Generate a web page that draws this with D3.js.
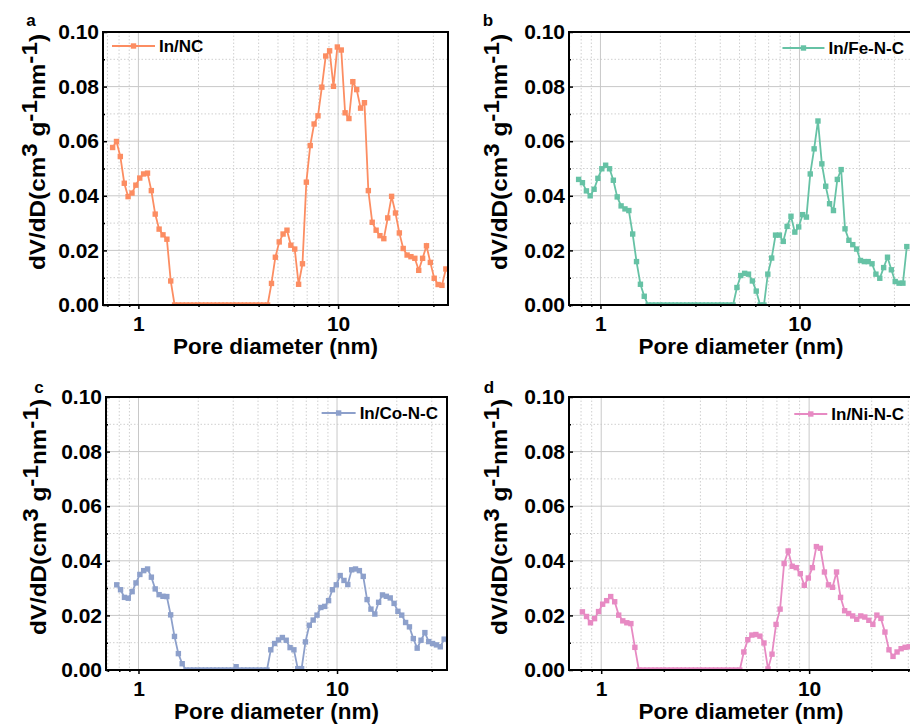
<!DOCTYPE html>
<html>
<head>
<meta charset="utf-8">
<script src="https://cdn.jsdelivr.net/npm/d3@7"></script>
<style>
  body { margin: 0; background: #fff; }
  text { font-family: "Liberation Sans", Arial, sans-serif; font-weight: bold; fill: #000; }
</style>
</head>
<body>
<svg id="chart" width="910" height="727"></svg>
<script>
// pore diameters (nm) of the shared measurement grid
var poreDiameter = [0.743,0.777,0.812,0.850,0.888,0.929,0.971,1.016,1.062,1.111,
  1.161,1.214,1.270,1.328,1.389,1.452,1.518,1.588,1.660,1.736,
  1.816,1.898,1.985,2.076,2.171,2.270,2.374,2.482,2.595,2.714,
  2.838,2.968,3.103,3.245,3.393,3.548,3.710,3.880,4.057,4.242,
  4.436,4.639,4.851,5.072,5.304,5.546,5.800,6.065,6.342,6.631,
  6.934,7.251,7.582,7.929,8.291,8.670,9.066,9.480,9.913,10.37,
  10.84,11.33,11.85,12.39,12.96,13.55,14.17,14.82,15.50,16.20,
  16.94,17.72,18.53,19.38,20.26,21.18,22.15,23.16,24.22,25.33,
  26.49,27.70,28.96,30.28,31.67,33.11,34.63,36.22];

// dV/dD (cm3 g-1 nm-1), null = no point
var inNC = [0.0577,0.0599,0.0544,0.0446,0.0397,0.0410,0.0439,0.0465,0.0480,0.0483,
  0.0419,0.0333,0.0278,0.0257,0.0241,0.0088,0,0,0,0,
  0,0,0,0,0,0,0,0,0,0,
  0,0,0,0,0,0,0,0,0,0,
  0,0.0079,0.0175,0.0231,0.0260,0.0274,0.0219,0.0205,0.0076,0.0151,
  0.0450,0.0584,0.0663,0.0693,0.0798,0.0912,0.0931,0.0801,0.0945,0.0934,
  0.0704,0.0683,0.0818,0.0789,0.0721,0.0741,0.0419,0.0303,0.0274,0.0254,
  0.0243,0.0319,0.0398,0.0337,0.0264,0.0207,0.0183,0.0177,0.0171,0.0127,
  0.0171,0.0217,0.0156,0.0098,0.0075,0.0072,0.0132,null];

var inFeNC = [null,0.0460,0.0448,0.0418,0.0400,0.0424,0.0464,0.0499,0.0512,0.0499,
  0.0457,0.0396,0.0363,0.0352,0.0346,0.0260,0.0159,0.0076,0.0032,0,
  0,0,0,0,0,0,0,0,0,0,
  0,0,0,0,0,0,0,0,0,0,
  0,0,0.0064,0.0108,0.0116,0.0113,0.0088,0.0051,0,0,
  0.0113,0.0172,0.0256,0.0256,0.0233,0.0288,0.0325,0.0267,0.0286,0.0331,
  0.0322,0.0480,0.0572,0.0674,0.0517,0.0435,0.0371,0.0346,0.0460,0.0496,
  0.0279,0.0237,0.0221,0.0205,0.0163,0.0159,0.0159,0.0151,0.0113,0.0098,
  0.0137,0.0175,0.0129,0.0086,0.0080,0.0080,0.0214,null];

var inCoNC = [null,0.0312,0.0294,0.0266,0.0263,0.0287,0.0319,0.0350,0.0364,0.0370,
  0.0340,0.0297,0.0276,0.0270,0.0269,0.0202,0.0123,0.0060,0.0023,0,
  0,0,0,0,0,0,0,0,0,0,
  0,0,0.0012,0,0,0,0,0,0,0,
  0,0.0074,0.0097,0.0110,0.0119,0.0109,0.0082,0.0074,0.0005,0.0005,
  0.0103,0.0164,0.0183,0.0201,0.0229,0.0233,0.0254,0.0294,0.0312,0.0346,
  0.0328,0.0313,0.0367,0.0370,0.0364,0.0343,0.0258,0.0223,0.0205,0.0248,
  0.0275,0.0270,0.0264,0.0244,0.0215,0.0201,0.0174,0.0158,0.0115,0.0080,
  0.0109,0.0137,0.0104,0.0097,0.0092,0.0085,0.0113,null];

var inNiNC = [null,null,0.0213,0.0196,0.0173,0.0188,0.0214,0.0241,0.0254,0.0269,
  0.0250,0.0201,0.0180,0.0173,0.0170,0.0083,0,0,0,0,
  0,0,0,0,0,0,0,0,0,0,
  0,0,0,0,0,0,0,0,0,0,
  0,0,0.0066,0.0111,0.0128,0.0130,0.0124,0.0099,0.0004,0.0058,
  0.0167,0.0223,0.0390,0.0436,0.0380,0.0375,0.0353,0.0310,0.0337,0.0375,
  0.0452,0.0446,0.0359,0.0312,0.0303,0.0359,0.0266,0.0217,0.0207,0.0198,
  0.0186,0.0198,0.0194,0.0182,0.0167,0.0201,0.0189,0.0139,0.0074,0.0050,
  0.0066,0.0078,0.0083,0.0085,null,null,null,null];

var seriesNames = ["In/NC", "In/Fe-N-C", "In/Co-N-C", "In/Ni-N-C"];
var panelLetters = ["a", "b", "c", "d"];
var xMajorTicks = [1, 10];
var xMinorTicks = [0.7, 0.8, 0.9, 2, 3, 4, 5, 6, 7, 8, 9, 20, 30];
var yMajorTicks = [0, 0.02, 0.04, 0.06, 0.08, 0.10];
var yMinorTicks = [0.01, 0.03, 0.05, 0.07, 0.09];
var colors = ["#fc8d62", "#66c2a5", "#8da0cb", "#e78ac3"];

// panel boxes
var panels = [
  {values: inNC,   left: 103, top: 32,  width: 345, height: 273, xDomain: [0.665, 35.5], legend: "left",  legY: 14, legLen: 43, letX: 31,  letY: 26,  titleX: 45},
  {values: inFeNC, left: 569, top: 32,  width: 344, height: 273, xDomain: [0.695, 37.2], legend: "right", legY: 16, legLen: 42, letX: 488, letY: 26,  titleX: 507},
  {values: inCoNC, left: 106, top: 397, width: 341, height: 273, xDomain: [0.686, 35.8], legend: "right", legY: 16, legLen: 34, letX: 39,  letY: 393, titleX: 46},
  {values: inNiNC, left: 569, top: 397, width: 344, height: 273, xDomain: [0.70, 31.6],  legend: "right", legY: 17, legLen: 33, letX: 489, letY: 393, titleX: 507}
];

var svg = d3.select("#chart");

panels.forEach(function(p, k) {
  var color = colors[k];
  var g = svg.append("g").attr("transform", "translate(" + p.left + "," + p.top + ")");
  var x = d3.scaleLog().domain(p.xDomain).range([0, p.width]);
  var y = d3.scaleLinear().domain([0, 0.1]).range([p.height, 0]);

  var xMinor = xMinorTicks.filter(t => t > p.xDomain[0] && t < p.xDomain[1]);

  // grid
  g.append("g").selectAll("line").data(xMinor).enter().append("line")
    .attr("x1", d => x(d)).attr("x2", d => x(d)).attr("y1", 0).attr("y2", p.height)
    .attr("stroke", "#cfcfcf").attr("stroke-dasharray", "1.5,2");
  g.append("g").selectAll("line").data(yMinorTicks).enter().append("line")
    .attr("x1", 0).attr("x2", p.width).attr("y1", d => y(d)).attr("y2", d => y(d))
    .attr("stroke", "#cfcfcf").attr("stroke-dasharray", "1.5,2");
  g.append("g").selectAll("line").data(xMajorTicks).enter().append("line")
    .attr("x1", d => x(d)).attr("x2", d => x(d)).attr("y1", 0).attr("y2", p.height)
    .attr("stroke", "#c8c8c8");
  g.append("g").selectAll("line").data(yMajorTicks.slice(1, -1)).enter().append("line")
    .attr("x1", 0).attr("x2", p.width).attr("y1", d => y(d)).attr("y2", d => y(d))
    .attr("stroke", "#c8c8c8");

  // data
  var clipId = "clip" + k;
  g.append("clipPath").attr("id", clipId).append("rect")
    .attr("width", p.width).attr("height", p.height);
  var pts = poreDiameter.map((d, i) => [d, p.values[i]]);
  var line = d3.line().defined(d => d[1] != null).x(d => x(d[0])).y(d => y(d[1]));
  var plot = g.append("g").attr("clip-path", "url(#" + clipId + ")");
  plot.append("path").datum(pts).attr("d", line)
    .attr("fill", "none").attr("stroke", color).attr("stroke-width", 1.8);
  plot.selectAll("rect").data(pts.filter(d => d[1] != null)).enter().append("rect")
    .attr("x", d => x(d[0]) - 2.7).attr("y", d => y(d[1]) - 2.7)
    .attr("width", 5.4).attr("height", 5.4).attr("fill", color);

  // axes
  var xAxis = g.append("g").attr("transform", "translate(0," + p.height + ")")
    .call(d3.axisBottom(x).tickValues(xMajorTicks).tickFormat(d3.format("d")).tickSize(4).tickPadding(7));
  g.append("g").attr("transform", "translate(0," + p.height + ")")
    .call(d3.axisBottom(x).tickValues(xMinor).tickFormat("").tickSize(2));
  var yAxis = g.append("g")
    .call(d3.axisLeft(y).tickValues(yMajorTicks).tickFormat(d3.format(".2f")).tickSize(-4).tickPadding(4));
  g.append("g").call(d3.axisLeft(y).tickValues(yMinorTicks).tickFormat("").tickSize(-2));
  g.selectAll(".domain").remove();
  g.selectAll(".tick line").attr("stroke", "#000").attr("stroke-width", 1.5);
  xAxis.selectAll("text").style("font-size", "21px").style("font-family", "'Liberation Sans', Arial, sans-serif").style("font-weight", "bold");
  yAxis.selectAll("text").style("font-size", "21px").style("font-family", "'Liberation Sans', Arial, sans-serif").style("font-weight", "bold");

  // frame
  g.append("rect").attr("width", p.width).attr("height", p.height)
    .attr("fill", "none").attr("stroke", "#000").attr("stroke-width", 2);

  // axis titles
  g.append("text").attr("x", p.width / 2).attr("y", p.height + 49)
    .attr("text-anchor", "middle").style("font-size", "22.5px").text("Pore diameter (nm)");

  var yt = svg.append("text")
    .attr("text-anchor", "middle").style("font-size", "22px");
  yt.append("tspan").text("dV/dD(cm");
  yt.append("tspan").attr("dy", -8).text("3");
  yt.append("tspan").attr("dy", 8).text(" g");
  yt.append("tspan").attr("dy", -8).text("-1");
  yt.append("tspan").attr("dy", 8).text("nm");
  yt.append("tspan").attr("dy", -8).text("-1");
  yt.append("tspan").attr("dy", 8).text(")");
  // the reference title runs longer than its glyph height suggests: stretch along its length
  var natural = yt.node().getComputedTextLength();
  yt.attr("transform", "translate(" + p.titleX + "," + (p.top + 120) + ") rotate(-90) scale(" + (236 / natural) + ",1)");

  // panel letter
  svg.append("text").attr("x", p.letX).attr("y", p.letY)
    .attr("text-anchor", "middle").style("font-size", "17px").text(panelLetters[k]);

  // legend
  var leg = g.append("g");
  var lt = leg.append("text").attr("y", p.legY).attr("dy", "0.35em")
    .style("font-size", "17px").text(seriesNames[k]);
  var tw = lt.node().getComputedTextLength();
  var textX = p.legend === "left" ? 56 : p.width - 9 - tw;
  lt.attr("x", textX);
  var l1 = textX - 4 - p.legLen, l2 = textX - 4;
  leg.append("line").attr("x1", l1).attr("x2", l2).attr("y1", p.legY).attr("y2", p.legY)
    .attr("stroke", color).attr("stroke-width", 1.8);
  leg.append("rect").attr("x", (l1 + l2) / 2 - 2.7).attr("y", p.legY - 2.7)
    .attr("width", 5.4).attr("height", 5.4).attr("fill", color);
});
</script>
</body>
</html>
